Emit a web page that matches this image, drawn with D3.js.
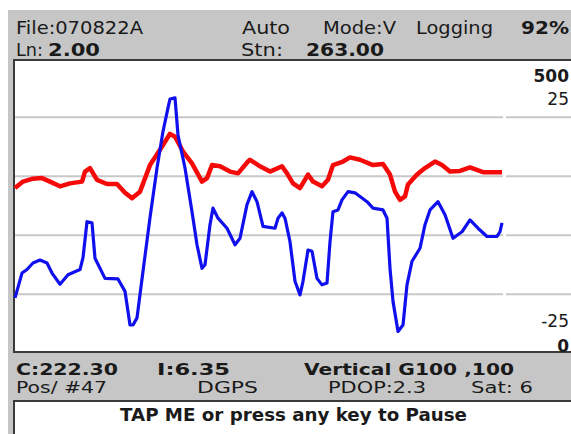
<!DOCTYPE html>
<html>
<head>
<meta charset="utf-8">
<script src="https://cdn.jsdelivr.net/npm/d3@7"></script>
<style>
  body { margin: 0; background: #fff; }
  text { font-family: "DejaVu Sans", sans-serif; fill: #1a1a1a; }
</style>
</head>
<body>
<svg id="svg_screen" width="571" height="434"></svg>
<script>

// Readings along the line (sample number) and the two channels
const red_x = [0,8,18,27,35,45,55,67,70,75,82,92,102,110,117,125,135,145,155,160,168,177,187,192,197,205,215,223,233,235,245,255,267,272,278,285,293,298,307,313,318,328,335,345,358,368,375,380,385,390,393,402,410,420,427,435,445,455,468,482,487];
const red_val = [280,291,296,297,291,283,288,291,308,314,294,287,287,272,263,274,319,345,372,367,342,322,291,297,319,317,308,305,325,328,317,308,317,305,288,280,303,291,283,294,319,325,332,328,319,321,303,274,260,266,286,303,314,325,319,308,309,315,307,307,307];

const blue_x = [0,7,12,18,25,32,37,45,53,65,68,72,77,80,90,103,110,115,118,122,128,135,142,148,153,155,160,163,170,177,182,187,190,195,198,203,212,220,225,232,237,242,248,260,263,267,270,275,280,285,288,293,297,302,307,312,315,318,323,327,333,340,352,358,368,372,375,378,383,388,392,397,405,410,415,423,430,438,447,455,463,472,482,485,487];
const blue_val = [-15.6,-11.4,-10.8,-9.7,-9.2,-9.7,-11.4,-13.3,-11.7,-10.8,-8.8,-2.7,-2.9,-8.9,-12.3,-12.4,-14.5,-20.2,-20.2,-19.0,-11.1,-2.0,6.4,12.6,16.6,18.1,18.3,12.0,6.4,-1.0,-6.6,-10.6,-10.0,-3.2,-0.4,-2.1,-3.8,-6.6,-5.5,0.2,2.4,0.7,-3.5,-3.8,-2.1,-1.2,-2.1,-6.1,-12.8,-15.1,-12.8,-7.5,-7.7,-12.3,-13.4,-13.1,-6.1,-1.0,-0.7,1.0,2.4,2.2,0.7,-0.4,-0.7,-2.1,-10.6,-16.2,-21.3,-20.2,-13.4,-9.4,-7.2,-3.2,-0.7,0.7,-1.5,-5.5,-4.4,-2.4,-3.8,-5.2,-5.2,-4.4,-2.9];

// Scales: red 0..500, blue -25..25, grid every 100 on the red scale
const red_domain = [0, 500],
    blue_domain = [-25, 25],
    grid_vals = [100, 200, 300, 400];

// Status texts
const top_row1 = [["File:070822A", 16, 127, false], ["Auto", 242, 48, false], ["Mode:V", 323, 73, false], ["Logging", 416, 77, false], ["92%", 521, 48, true]];
const top_row2 = [["Ln:", 16, 27, false], ["2.00", 48, 52, true], ["Stn:", 241, 42, false], ["263.00", 306, 78, true]];
const bot_row1 = [["C:222.30", 16, 102, true], ["I:6.35", 157, 73, true], ["Vertical G100 ,100", 304, 210, true]];
const bot_row2 = [["Pos/ #47", 16, 91, false], ["DGPS", 197, 61, false], ["PDOP:2.3", 328, 98, false], ["Sat: 6", 471, 62, false]];
const scale_labels = [["500", 82, true], ["25", 105, false], ["-25", 327, false], ["0", 352, true]];

const svg = d3.select("#svg_screen");

const my_gray = "#c6c6c6",
    my_border = "#3a3a3a";

// Background panel
svg.append("rect").attr("x", 8).attr("y", 10).attr("width", 563).attr("height", 424).attr("fill", my_gray);

// Plot box
svg.append("rect").attr("x", 14).attr("y", 60).attr("width", 570).attr("height", 292)
    .attr("fill", "white").attr("stroke", my_border).attr("stroke-width", 2);

const x_scale = d3.scaleLinear().domain([0, 487]).range([15, 502]);
const y_red = d3.scaleLinear().domain(red_domain).range([353.3, 58.3]);
const y_blue = d3.scaleLinear().domain(blue_domain).range([353.3, 58.3]);

// Grid lines (broken near the right edge like the device draws them)
const grid = svg.append("g").attr("class", "grid");
grid.selectAll("line.left")
    .data(grid_vals)
    .enter().append("line")
    .attr("x1", 15).attr("x2", 503)
    .attr("y1", d => y_red(d)).attr("y2", d => y_red(d))
    .attr("stroke", "#c8c8c8").attr("stroke-width", 2);
grid.selectAll("line.right")
    .data(grid_vals)
    .enter().append("line")
    .attr("x1", 506).attr("x2", 571)
    .attr("y1", d => y_red(d)).attr("y2", d => y_red(d))
    .attr("stroke", "#c8c8c8").attr("stroke-width", 2);

// Traces
const red_line = d3.line().x(i => x_scale(red_x[i])).y(i => y_red(red_val[i]));
const blue_line = d3.line().x(i => x_scale(blue_x[i])).y(i => y_blue(blue_val[i]));

svg.append("path")
    .attr("d", red_line(d3.range(red_x.length)))
    .attr("fill", "none").attr("stroke", "#f50a0a").attr("stroke-width", 4.5)
    .attr("stroke-linejoin", "round");

svg.append("path")
    .attr("d", blue_line(d3.range(blue_x.length)))
    .attr("fill", "none").attr("stroke", "#1010ee").attr("stroke-width", 3.2)
    .attr("stroke-linejoin", "round");

// Scale labels on the right
svg.selectAll("text.scale")
    .data(scale_labels)
    .enter().append("text")
    .attr("x", 569).attr("y", d => d[1])
    .attr("text-anchor", "end")
    .attr("font-size", 17)
    .attr("font-weight", d => d[2] ? "bold" : "normal")
    .text(d => d[0]);

// Status rows
function draw_row(rows, baseline, size) {
    svg.append("g").selectAll("text")
        .data(rows)
        .enter().append("text")
        .attr("x", d => d[1]).attr("y", baseline)
        .attr("font-size", size)
        .attr("font-weight", d => d[3] ? "bold" : "normal")
        .attr("textLength", d => d[2])
        .attr("lengthAdjust", "spacingAndGlyphs")
        .text(d => d[0]);
}

draw_row(top_row1, 34, 18);
draw_row(top_row2, 56, 18);
draw_row(bot_row1, 375, 16);
draw_row(bot_row2, 393, 15);

// Pause button
svg.append("rect").attr("x", 14).attr("y", 401).attr("width", 570).attr("height", 40)
    .attr("fill", "white").attr("stroke", my_border).attr("stroke-width", 2);

svg.append("text")
    .attr("x", 120).attr("y", 421)
    .attr("font-size", 17).attr("font-weight", "bold")
    .attr("textLength", 347).attr("lengthAdjust", "spacingAndGlyphs")
    .text("TAP ME or press any key to Pause");

</script>
</body>
</html>
